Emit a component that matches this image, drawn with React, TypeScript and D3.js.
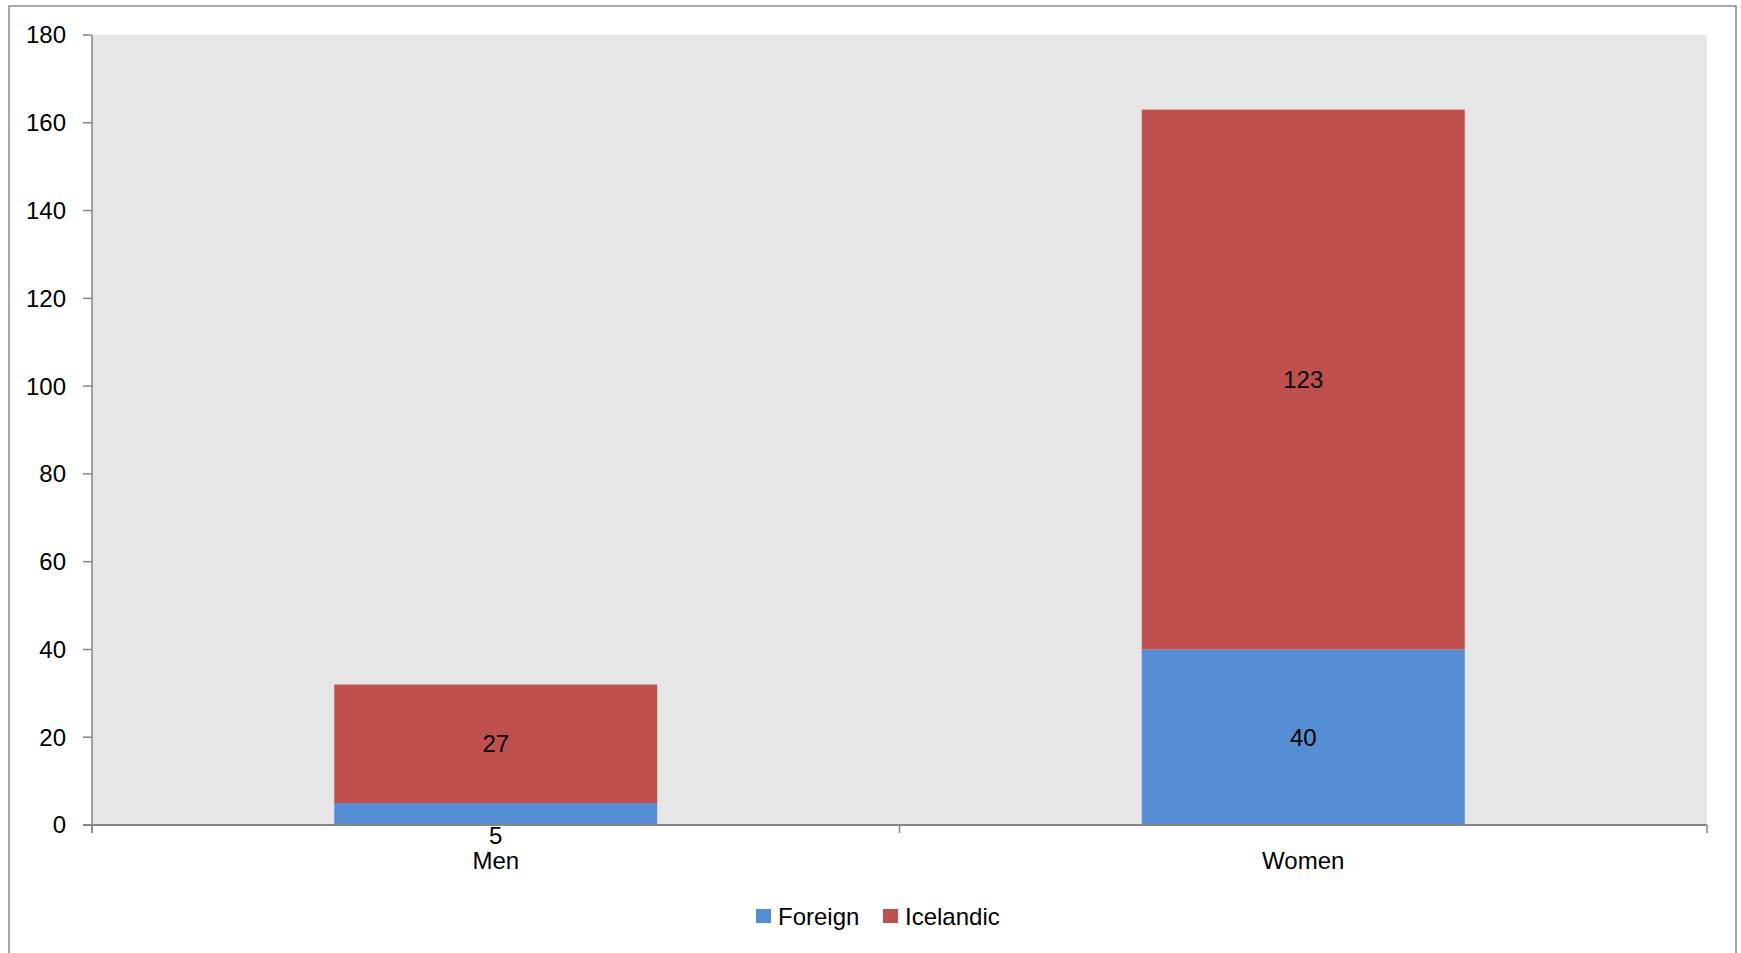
import React from "react";
import * as d3 from "d3";

const categories = ["Men", "Women"];
const seriesNames = ["Foreign", "Icelandic"];
const foreign = [5, 40];
const icelandic = [27, 123];
const yTicks = [0, 20, 40, 60, 80, 100, 120, 140, 160, 180];
const colors = ["#558ED5", "#C0504D"];

const W = 1741;
const H = 953;
const left = 92;
const right = 1707;
const top = 35;
const bottom = 825;
const FONT = "'Liberation Sans', Arial, sans-serif";
const FS = 24;

export default function App() {
  const x = d3.scaleBand<string>().domain(categories).range([left, right]).paddingInner(0).paddingOuter(0);
  const y = d3.scaleLinear().domain([0, 180]).range([bottom, top]);
  const barW = x.bandwidth() * 0.4;
  const data = categories.map((c, i) => ({ c, vals: [foreign[i], icelandic[i]] }));
  const stack = d3.stack<any>().keys(["0", "1"]).value((d: any, k: string) => d.vals[+k]);
  const stacked = stack(data as any);

  return (
    <svg width={W} height={H} style={{ position: "absolute", left: 0, top: 0 }} fontFamily={FONT}>
      <rect x={0} y={0} width={W} height={H} fill="#fff" />
      <rect x={9} y={6} width={1727} height={960} fill="none" stroke="#8c8c8c" strokeWidth={1.5} />
      <rect x={left} y={top} width={right - left} height={bottom - top} fill="#E6E6E6" />
      {stacked.map((s, si) =>
        s.map((d: any, i: number) => {
          const cx = x(categories[i])! + x.bandwidth() / 2;
          return (
            <rect key={si + "-" + i} x={cx - barW / 2} width={barW} y={y(d[1])} height={y(d[0]) - y(d[1])} fill={colors[si]} />
          );
        })
      )}
      {stacked.map((s, si) =>
        s.map((d: any, i: number) => {
          const cx = x(categories[i])! + x.bandwidth() / 2;
          const v = d[1] - d[0];
          const h = y(d[0]) - y(d[1]);
          const cy = h < 30 ? y(d[0]) + 11 : (y(d[0]) + y(d[1])) / 2;
          return (
            <text key={"l" + si + "-" + i} x={cx} y={cy} dy="0.35em" textAnchor="middle" fontSize={FS} fill="#000">
              {v}
            </text>
          );
        })
      )}
      {/* axes */}
      <line x1={left} x2={left} y1={top} y2={bottom + 8} stroke="#868686" strokeWidth={1.5} />
      <line x1={left - 9} x2={right} y1={bottom} y2={bottom} stroke="#868686" strokeWidth={2} />
      {yTicks.map((t) => (
        <g key={t}>
          <line x1={left - 9} x2={left} y1={y(t)} y2={y(t)} stroke="#868686" strokeWidth={1.5} />
          <text x={66} y={y(t)} dy="0.35em" textAnchor="end" fontSize={FS} fill="#000">
            {t}
          </text>
        </g>
      ))}
      {[left, left + x.bandwidth(), right].map((p, i) => (
        <line key={i} x1={p} x2={p} y1={bottom} y2={bottom + 8} stroke="#868686" strokeWidth={1.5} />
      ))}
      {categories.map((c) => (
        <text key={c} x={x(c)! + x.bandwidth() / 2} y={869} textAnchor="middle" fontSize={FS} fill="#000">
          {c}
        </text>
      ))}
      {/* legend */}
      {seriesNames.map((n, i) => {
        const lx = [756, 883][i];
        return (
          <g key={n}>
            <rect x={lx} y={909} width={15} height={14} fill={colors[i]} />
            <text x={lx + 22} y={925} fontSize={FS} fill="#000">
              {n}
            </text>
          </g>
        );
      })}
    </svg>
  );
}
